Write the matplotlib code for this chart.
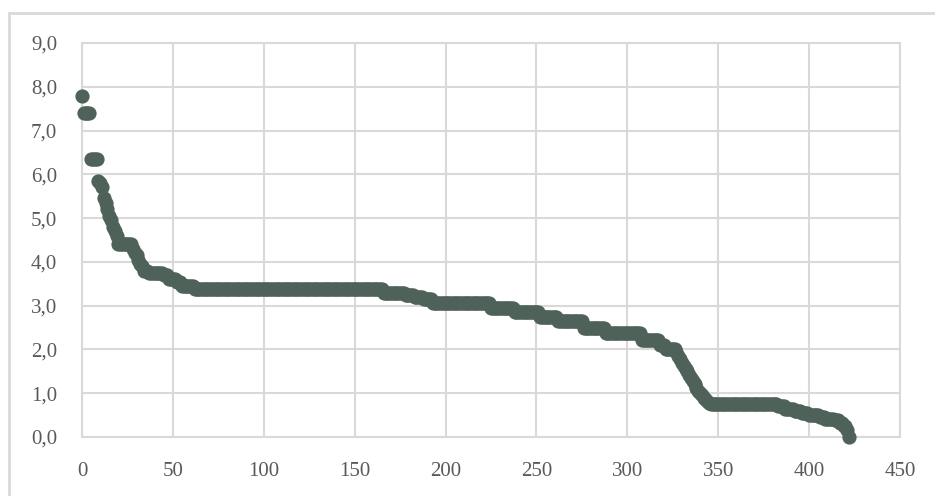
import numpy as np
import matplotlib
matplotlib.use("Agg")
import matplotlib.pyplot as plt
from matplotlib.patches import Rectangle
from matplotlib.ticker import FuncFormatter

# sorted values as (level, how many points)
levels = [7.8, 7.4, 6.35, 5.85, 5.8, 5.7, 5.45, 5.35, 5.2,
          5.05, 4.95, 4.8, 4.7, 4.6, 4.4,
          4.3, 4.2, 4.15, 4.05, 3.95, 3.9, 3.8, 3.75, 3.7, 3.6, 3.55, 3.45,
          3.38, 3.3, 3.25, 3.2, 3.15, 3.05, 2.95, 2.85, 2.75, 2.65, 2.5, 2.37,
          2.22, 2.1, 2.02,
          1.95, 1.85, 1.78, 1.7, 1.62, 1.55, 1.5, 1.42, 1.35, 1.28,
          1.2, 1.12, 1.05, 1.0, 0.95, 0.9, 0.86, 0.82, 0.78, 0.76,
          0.75, 0.7, 0.65, 0.6, 0.55, 0.5, 0.45, 0.42, 0.38, 0.32, 0.25, 0.15, 0.0]
counts = [1, 4, 4, 1, 1, 1, 1, 1, 1,
          1, 1, 1, 1, 1, 8,
          1, 1, 1, 1, 1, 1, 3, 8, 3, 4, 3, 7,
          104, 12, 5, 5, 5, 32, 13, 14, 10, 14, 12, 20,
          10, 3, 6,
          1, 1, 1, 1, 1, 1, 1, 1, 1, 1,
          1, 1, 1, 1, 1, 1, 1, 1, 1, 1,
          36, 4, 5, 4, 4, 6, 3, 5, 3, 2, 2, 1, 1]

xticks = [0, 50, 100, 150, 200, 250, 300, 350, 400, 450]
yticks = [0, 1, 2, 3, 4, 5, 6, 7, 8, 9]

y = np.repeat(levels, counts)
x = np.arange(len(y))

grid_col = "#d9d9d9"
fig = plt.figure(figsize=(9.35, 4.96), dpi=100)
ax = fig.add_axes([82/935, 59/496, 818/935, 394/496])

ax.scatter(x, y, s=105, color="#4e625a", linewidths=0, zorder=3, clip_on=False)

ax.set_xlim(0, 450)
ax.set_ylim(0, 9)
ax.set_xticks(xticks)
ax.set_yticks(yticks)
ax.yaxis.set_major_formatter(FuncFormatter(lambda v, p: f"{v:.1f}".replace(".", ",")))
ax.grid(True, color=grid_col, linewidth=1.5, zorder=0)
ax.set_axisbelow(True)
for s in ax.spines.values():
    s.set_color(grid_col)
    s.set_linewidth(1.5)
ax.tick_params(length=0, labelsize=15, colors="#595959", pad=18)
for lab in ax.get_xticklabels() + ax.get_yticklabels():
    lab.set_fontfamily(["Liberation Serif", "DejaVu Serif"])

fig.patches.append(Rectangle((9/935, -0.1), 1.0, (496-13)/496 + 0.1,
                             transform=fig.transFigure, fill=False,
                             edgecolor=grid_col, linewidth=2))

fig.savefig("out.png", dpi=100)
